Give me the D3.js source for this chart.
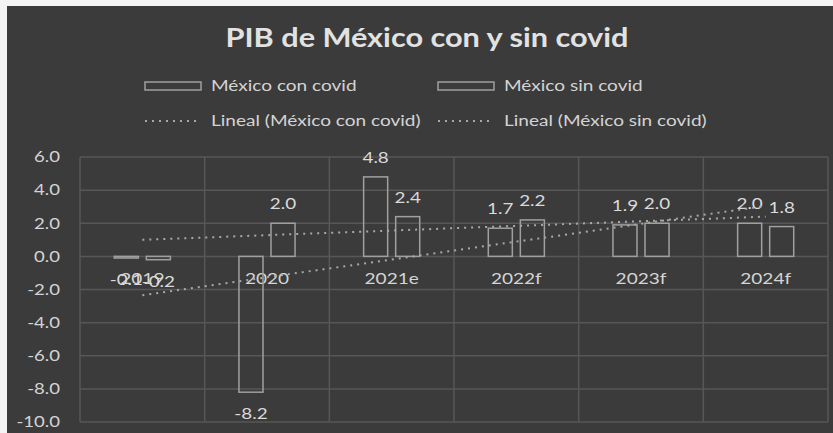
<!DOCTYPE html>
<html><head><meta charset="utf-8">
<script src="https://cdn.jsdelivr.net/npm/d3@7/dist/d3.min.js"></script>
<style>
html,body{margin:0;padding:0;background:#f4f4f4;}
svg{display:block;}
text{font-family:Lato,"Open Sans",sans-serif;}
</style></head><body>
<svg id="c" width="833" height="433"></svg>
<script>
const categories = ["2019","2020","2021e","2022f","2023f","2024f"];
const seriesNames = ["México con covid","México sin covid"];
const conCovid = [-0.1, -8.2, 4.8, 1.7, 1.9, 2.0];
const sinCovid = [-0.2, 2.0, 2.4, 2.2, 2.0, 1.8];
const yTicks = [6,4,2,0,-2,-4,-6,-8,-10];
const trendNames = ["Lineal (México con covid)","Lineal (México sin covid)"];

(function(){
const svg = d3.select("#c");
const W=833,H=433;
const bg="#3b3b3b", grid="#575757", barStroke="#a0a0a0", txt="#d4d4d4";
const fmt = d3.formatLocale({decimal:".",thousands:",",grouping:[3],currency:["",""],minus:"-"}).format(".1f");

// horizontal stretch of text glyphs (the reference is widened)
function stretch(sel,k){
  sel.each(function(){
    const t=d3.select(this);
    const xv=+t.attr("x")||0;
    t.attr("transform",`translate(${xv},0) scale(${k},1) translate(${-xv},0)`);
  });
}

svg.append("rect").attr("x",7).attr("y",6).attr("width",W-7).attr("height",H-6).attr("fill",bg);

const pL=80,pR=828,pT=157,pB=422;
const x = d3.scaleBand().domain(categories).range([pL,pR]).padding(0);
const y = d3.scaleLinear().domain([-10,6]).range([pB,pT]);
const xs = d3.scaleBand().domain(seriesNames).range([0,x.bandwidth()]).paddingInner(0.25).paddingOuter(1.07);

const g = svg.append("g");
g.selectAll("line.h").data(yTicks).join("line")
 .attr("x1",pL).attr("x2",pR).attr("y1",d=>y(d)).attr("y2",d=>y(d))
 .attr("stroke",grid).attr("stroke-width",1.5);
const bounds = categories.map(c=>x(c)).concat([pR]);
g.selectAll("line.v").data(bounds).join("line")
 .attr("x1",d=>d).attr("x2",d=>d).attr("y1",pT).attr("y2",pB)
 .attr("stroke",grid).attr("stroke-width",1.5);

const yAxis = d3.axisLeft(y).tickValues(yTicks).tickFormat(fmt).tickSize(0).tickPadding(0);
const ya = svg.append("g").attr("transform",`translate(60,0)`).call(yAxis);
ya.select(".domain").remove();
ya.selectAll("text").attr("fill",txt).style("font-size","15px").style("font-family","Lato,sans-serif")
  .attr("transform","scale(1.24,1)");

const xAxis = d3.axisBottom(x).tickSize(0).tickPadding(0);
const xa = svg.append("g").attr("transform",`translate(0,${y(0)+17})`).call(xAxis);
xa.select(".domain").remove();
xa.selectAll("text").attr("fill",txt).style("font-size","15px").style("font-family","Lato,sans-serif")
  .attr("transform","scale(1.27,1)");

const data = [];
categories.forEach((c,i)=>{
  data.push({c, s:seriesNames[0], v:conCovid[i]});
  data.push({c, s:seriesNames[1], v:sinCovid[i]});
});
svg.append("g").selectAll("rect").data(data).join("rect")
 .attr("x",d=>x(d.c)+xs(d.s))
 .attr("width",xs.bandwidth())
 .attr("y",d=>y(Math.max(0,d.v)))
 .attr("height",d=>Math.abs(y(d.v)-y(0)))
 .attr("fill","none").attr("stroke",barStroke).attr("stroke-width",1.5);

svg.append("g").selectAll("text").data(data).join("text")
 .attr("x",d=>x(d.c)+xs(d.s)+xs.bandwidth()/2)
 .attr("y",d=>d.v>=0 ? y(d.v)-14 : y(d.v)+27)
 .attr("text-anchor","middle").attr("fill","#dadada").style("font-size","16px")
 .text(d=>fmt(d.v))
 .call(stretch,1.18);

function fit(vals){
  const n=vals.length, xsA=vals.map((_,i)=>i+1);
  const mx=d3.mean(xsA), my=d3.mean(vals);
  const b=d3.sum(xsA.map((xv,i)=>(xv-mx)*(vals[i]-my)))/d3.sum(xsA.map(xv=>(xv-mx)**2));
  const a=my-b*mx;
  return [a+b*1, a+b*n];
}
const cx = c=>x(c)+x.bandwidth()/2;
[conCovid,sinCovid].forEach(vals=>{
  const [y1,y2]=fit(vals);
  svg.append("line")
   .attr("x1",cx(categories[0])).attr("y1",y(y1))
   .attr("x2",cx(categories[categories.length-1])).attr("y2",y(y2))
   .attr("stroke","#a8a8a8").attr("stroke-width",2).attr("stroke-dasharray","2,5");
});

svg.append("text").attr("x",427).attr("y",47).attr("text-anchor","middle")
 .attr("fill","#e2e2e2").style("font-size","26px").style("font-weight","bold")
 .text("PIB de México con y sin covid")
 .call(stretch,1.18);

const legX=[145,438], legTX=[211,504];
seriesNames.forEach((s,i)=>{
  svg.append("rect").attr("x",legX[i]).attr("y",82).attr("width",56).attr("height",8)
   .attr("fill","none").attr("stroke",barStroke).attr("stroke-width",1.5);
  svg.append("text").attr("x",legTX[i]).attr("y",91).attr("fill",txt).style("font-size","15px").text(s)
   .call(stretch,1.27);
});
trendNames.forEach((s,i)=>{
  svg.append("line").attr("x1",legX[i]).attr("x2",legX[i]+56).attr("y1",121).attr("y2",121)
   .attr("stroke","#a8a8a8").attr("stroke-width",2).attr("stroke-dasharray","2,5");
  svg.append("text").attr("x",legTX[i]).attr("y",126).attr("fill",txt).style("font-size","15px").text(s)
   .call(stretch,1.27);
});
})();
</script></body></html>
